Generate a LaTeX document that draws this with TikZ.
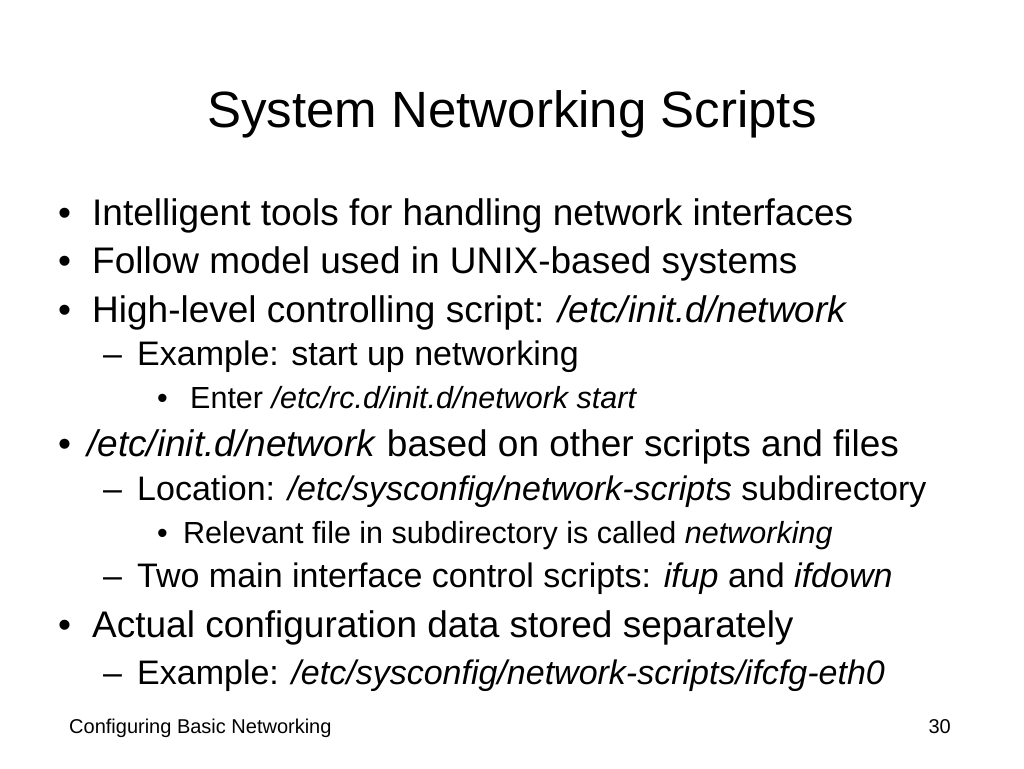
\documentclass[tikz,border=0pt]{standalone}
\usepackage{fontspec}
\setmainfont{Liberation Sans}
\begin{document}
\begin{tikzpicture}[x=1pt,y=-1pt,
 t/.style={anchor=base west,inner sep=0pt},
 la/.style={t,font=\fontsize{37}{42}\selectfont},
 lb/.style={t,font=\fontsize{34}{38}\selectfont},
 lc/.style={t,font=\fontsize{30.5}{34}\selectfont},
 ft/.style={inner sep=0pt,font=\fontsize{20}{24}\selectfont}]
\useasboundingbox (0,0) rectangle (1024,768);
\node[inner sep=0pt,anchor=base,font=\fontsize{51}{56}\selectfont] (title) at (512,127) {System Networking Scripts};
\node[la] (b1) at (58,225) {•}; \node[la] (t1) at (92,225) {Intelligent tools for handling network interfaces};
\node[la] (b2) at (58,273) {•}; \node[la] (t2) at (92,273) {Follow model used in UNIX-based systems};
\node[la] (b3) at (58,322) {•}; \node[la] (t3) at (92,322) {High-level controlling script: \textit{/etc/init.d/network}};
\node[lb] (d1) at (103,365) {–}; \node[lb] (s1) at (137,365) {Example: start up networking};
\node[lc] (c1) at (157,408) {•}; \node[lc] (u1) at (190,408) {Enter \textit{/etc/rc.d/init.d/network start}};
\node[la] (b4) at (58,456) {•}; \node[la] (t4) at (87,456) {\textit{/etc/init.d/network} based on other scripts and files};
\node[lb] (d2) at (103,500) {–}; \node[lb] (s2) at (137,500) {Location: \textit{/etc/sysconfig/network-scripts} subdirectory};
\node[lc] (c2) at (157,543) {•}; \node[lc] (u2) at (183,543) {Relevant file in subdirectory is called \textit{networking}};
\node[lb] (d3) at (103,587) {–}; \node[lb] (s3) at (137,587) {Two main interface control scripts: \textit{ifup} and \textit{ifdown}};
\node[la] (b5) at (58,637) {•}; \node[la] (t5) at (92,637) {Actual configuration data stored separately};
\node[lb] (d4) at (103,684) {–}; \node[lb] (s4) at (137,684) {Example: \textit{/etc/sysconfig/network-scripts/ifcfg-eth0}};
\node[ft,anchor=base west] (f1) at (69,733) {Configuring Basic Networking};
\node[ft,anchor=base east] (f2) at (951,733) {30};
\end{tikzpicture}
\end{document}
